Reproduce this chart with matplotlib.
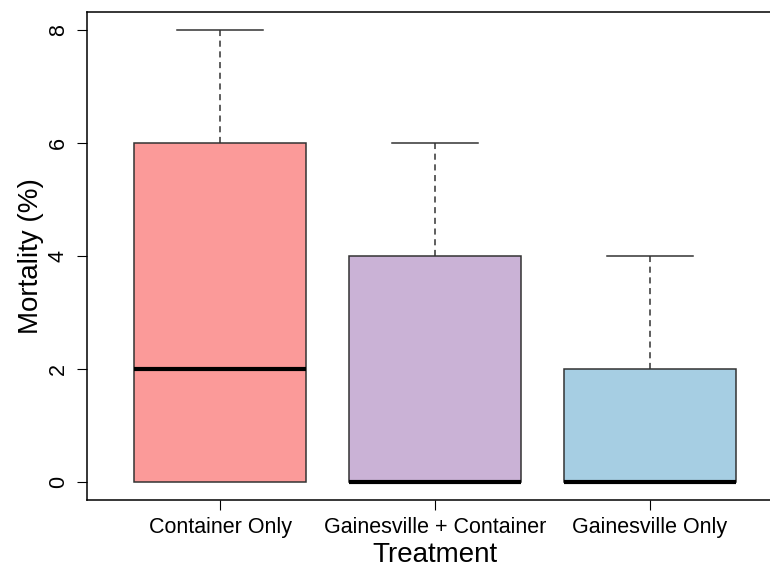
import matplotlib.pyplot as plt

plt.rcParams['font.family'] = ['Liberation Sans', 'DejaVu Sans']

# five-number summaries per treatment
treatments = ["Container Only", "Gainesville + Container", "Gainesville Only"]
whisker_low = [0, 0, 0]
q1 = [0, 0, 0]
median = [2, 0, 0]
q3 = [6, 4, 2]
whisker_high = [8, 6, 4]
colors = ["#FB9A99", "#CAB2D6", "#A6CEE3"]

stats = []
for i, name in enumerate(treatments):
    stats.append({"label": name, "whislo": whisker_low[i], "q1": q1[i],
                  "med": median[i], "q3": q3[i], "whishi": whisker_high[i],
                  "fliers": []})

fig = plt.figure(figsize=(7.7, 5.69), dpi=100)
ax = fig.add_axes([87 / 770, 1 - 500 / 569, 696 / 770, 488 / 569])

bp = ax.bxp(stats, positions=[1, 2, 3], widths=0.8, patch_artist=True,
            showfliers=False,
            boxprops=dict(edgecolor="#333333", linewidth=1.1),
            medianprops=dict(color="black", linewidth=3, solid_capstyle="butt"),
            whiskerprops=dict(color="#333333", linewidth=1.1, linestyle=(0, (4, 3))),
            capprops=dict(color="#333333", linewidth=1.1))
for patch, c in zip(bp["boxes"], colors):
    patch.set_facecolor(c)
# shorter caps; hide the ones sitting on the box edge
for k, cap in enumerate(bp["caps"]):
    x0, x1 = cap.get_xdata()
    mid = (x0 + x1) / 2
    cap.set_xdata([mid - 0.2, mid + 0.2])
    i = k // 2
    if k % 2 == 0 and whisker_low[i] == q1[i]:
        cap.set_visible(False)

ax.set_xlim(0.38, 3.62)
ax.set_ylim(-0.32, 8.32)
ax.set_yticks([0, 2, 4, 6, 8])
ax.set_xticks([1, 2, 3])
ax.set_xticklabels(treatments)
ax.tick_params(axis="y", labelrotation=90, labelsize=15.5, length=7, pad=6)
ax.tick_params(axis="x", labelsize=15.5, length=7, pad=5)
for lab in ax.get_yticklabels():
    lab.set_va("center")
ax.set_xlabel("Treatment", fontsize=20, labelpad=3)
ax.set_ylabel("Mortality (%)", fontsize=20, labelpad=3)
for s in ax.spines.values():
    s.set_linewidth(1.1)

fig.savefig("out.png", dpi=100)
